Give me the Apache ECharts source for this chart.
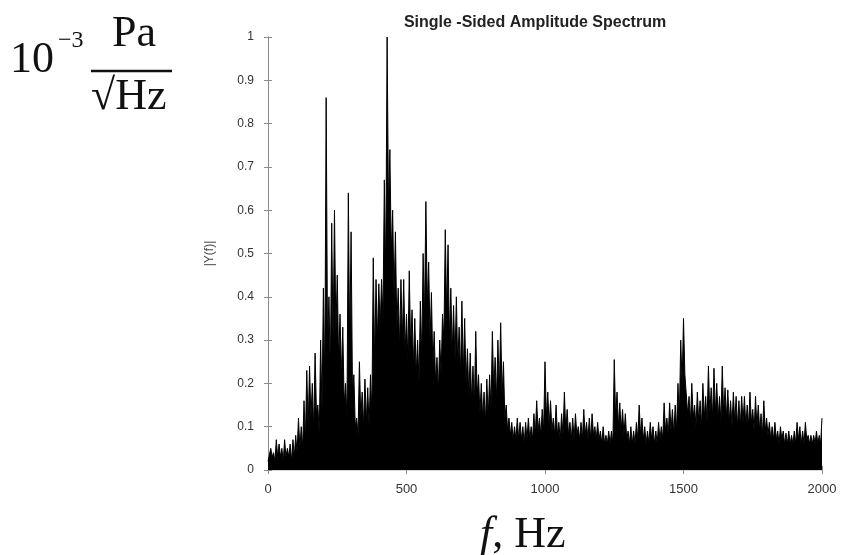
<!DOCTYPE html>
<html><head><meta charset="utf-8">
<script src="https://cdn.jsdelivr.net/npm/echarts@6/dist/echarts.min.js"></script>
<style>html,body{margin:0;padding:0;background:#fff}#c{width:842px;height:555px}</style>
</head><body><div id="c"></div><script>
// Frequency grid: one spike sample every 10 Hz (0..2000), one "dense body" sample between each pair
const freqStep = 10;
const xTicks = [0, 500, 1000, 1500, 2000];
const yTicks = [0, 0.1, 0.2, 0.3, 0.4, 0.5, 0.6, 0.7, 0.8, 0.9, 1];
// Spike tops of the amplitude spectrum (10^-3 Pa/sqrt(Hz)), read at 0,10,...,2000 Hz
const peaks = [
 0.02,0.05,0.04,0.07,0.06,0.05,0.07,0.05,0.06,0.07,
 0.08,0.12,0.10,0.16,0.23,0.24,0.20,0.27,0.15,0.30,
 0.42,0.86,0.40,0.57,0.60,0.45,0.36,0.33,0.20,0.64,
 0.55,0.22,0.12,0.25,0.18,0.21,0.19,0.22,0.49,0.44,
 0.43,0.44,0.67,1.00,0.74,0.60,0.55,0.42,0.44,0.44,
 0.36,0.46,0.37,0.35,0.30,0.39,0.50,0.62,0.48,0.41,
 0.32,0.26,0.30,0.36,0.555,0.52,0.42,0.38,0.40,0.33,
 0.39,0.35,0.28,0.27,0.24,0.32,0.22,0.20,0.18,0.21,
 0.22,0.32,0.26,0.30,0.34,0.25,0.15,0.12,0.11,0.10,
 0.12,0.11,0.10,0.11,0.12,0.10,0.13,0.16,0.12,0.14,
 0.25,0.18,0.16,0.12,0.15,0.11,0.13,0.18,0.14,0.11,
 0.12,0.13,0.10,0.11,0.14,0.11,0.12,0.13,0.10,0.11,
 0.09,0.10,0.08,0.09,0.09,0.255,0.18,0.155,0.14,0.13,
 0.09,0.10,0.09,0.11,0.15,0.12,0.10,0.09,0.11,0.10,
 0.09,0.11,0.10,0.155,0.12,0.155,0.14,0.15,0.20,0.30,
 0.35,0.22,0.17,0.20,0.15,0.18,0.16,0.20,0.17,0.24,
 0.19,0.235,0.20,0.17,0.24,0.19,0.185,0.16,0.18,0.17,
 0.16,0.17,0.17,0.15,0.18,0.14,0.17,0.15,0.13,0.16,
 0.12,0.11,0.10,0.11,0.09,0.10,0.09,0.085,0.09,0.08,
 0.09,0.11,0.10,0.09,0.11,0.08,0.08,0.08,0.09,0.08,
 0.12
];
// Top of the solid black body between spikes, read at 5,15,...,1995 Hz
const troughs = [
 0.02,0.03,0.02,0.03,0.03,0.02,0.03,0.03,0.02,0.03,
 0.04,0.05,0.05,0.07,0.10,0.12,0.09,0.13,0.08,0.14,
 0.20,0.28,0.22,0.30,0.32,0.25,0.22,0.15,0.12,0.28,
 0.18,0.10,0.08,0.12,0.10,0.11,0.10,0.13,0.25,0.30,
 0.33,0.35,0.45,0.60,0.50,0.40,0.33,0.28,0.30,0.27,
 0.25,0.28,0.24,0.22,0.20,0.26,0.35,0.38,0.30,0.24,
 0.20,0.18,0.22,0.30,0.36,0.30,0.27,0.25,0.24,0.22,
 0.22,0.20,0.17,0.16,0.15,0.17,0.13,0.12,0.11,0.12,
 0.14,0.18,0.16,0.18,0.17,0.12,0.09,0.08,0.07,0.07,
 0.07,0.07,0.06,0.07,0.07,0.07,0.08,0.09,0.08,0.09,
 0.12,0.10,0.09,0.08,0.08,0.07,0.08,0.09,0.08,0.07,
 0.07,0.08,0.07,0.07,0.08,0.07,0.07,0.08,0.07,0.07,
 0.06,0.06,0.06,0.06,0.06,0.12,0.10,0.09,0.08,0.07,
 0.06,0.06,0.06,0.07,0.08,0.07,0.06,0.06,0.07,0.06,
 0.06,0.07,0.07,0.09,0.08,0.09,0.08,0.09,0.12,0.20,
 0.22,0.13,0.11,0.12,0.10,0.11,0.10,0.12,0.11,0.13,
 0.12,0.13,0.12,0.11,0.13,0.12,0.11,0.10,0.11,0.10,
 0.10,0.11,0.10,0.10,0.11,0.09,0.10,0.09,0.08,0.09,
 0.08,0.07,0.07,0.07,0.06,0.07,0.06,0.06,0.06,0.06,
 0.06,0.07,0.06,0.06,0.07,0.06,0.06,0.06,0.06,0.06
];
const titleText = 'Single -Sided Amplitude Spectrum';
const yName = '|Y(f)|';

const seriesData = [];
for (let i = 0; i < peaks.length; i++) {
  seriesData.push([i * freqStep, peaks[i]]);
  if (i < troughs.length) seriesData.push([i * freqStep + freqStep / 2, troughs[i]]);
}

const axisGray = '#8a8a8a';
const chart = echarts.init(document.getElementById('c'), null, {renderer: 'canvas'});
const serif = '"Liberation Serif","Times New Roman",serif';
chart.setOption({
  animation: false,
  backgroundColor: '#fff',
  title: {
    text: titleText, left: 530, top: 10, textAlign: 'center',
    textStyle: {fontFamily: 'Liberation Sans, Arial', fontSize: 16, fontWeight: 'bold', color: '#222'}
  },
  grid: {left: 268, right: 20, top: 37, bottom: 85},
  xAxis: [{
    type: 'value', min: 0, max: 2000, interval: 500, position: 'bottom',
    axisLine: {lineStyle: {color: axisGray, width: 1}},
    axisTick: {inside: true, length: 4, lineStyle: {color: axisGray}},
    axisLabel: {fontFamily: 'Liberation Sans, Arial', fontSize: 13, color: '#333', margin: 13,
      formatter: v => xTicks.indexOf(v) >= 0 ? String(v) : ''},
    splitLine: {show: false}
  }, {
    type: 'value', min: 0, max: 2000, interval: 500, position: 'top',
    axisLine: {show: true, lineStyle: {color: '#d8d8d8', width: 1}},
    axisTick: {inside: true, length: 4, lineStyle: {color: axisGray}},
    axisLabel: {show: false}, splitLine: {show: false}
  }],
  yAxis: [{
    type: 'value', min: 0, max: 1, interval: 0.1, position: 'left',
    name: yName, nameLocation: 'middle', nameGap: 52, nameRotate: 90,
    nameTextStyle: {fontFamily: 'Liberation Sans, Arial', fontSize: 12, color: '#444'},
    axisLine: {show: true, lineStyle: {color: axisGray, width: 1}},
    axisTick: {show: true, inside: true, length: 4, lineStyle: {color: axisGray}},
    axisLabel: {fontFamily: 'Liberation Sans, Arial', fontSize: 12, color: '#333', margin: 14,
      formatter: v => {
        const t = yTicks.find(k => Math.abs(k - v) < 1e-6);
        if (t === undefined) return '';
        return (t === 0 || t === 1) ? String(t) : t.toFixed(1);
      }},
    splitLine: {show: false}
  }, {
    type: 'value', min: 0, max: 1, interval: 0.1, position: 'right',
    axisLine: {show: true, lineStyle: {color: axisGray, width: 1}},
    axisTick: {show: true, inside: true, length: 4, lineStyle: {color: axisGray}},
    axisLabel: {show: false}, splitLine: {show: false}
  }],
  graphic: [
    {type: 'text', left: 10, top: 38, style: {text: '10', font: '44px ' + serif, fill: '#111'}},
    {type: 'text', left: 58, top: 29, style: {text: '\u22123', font: '24px ' + serif, fill: '#111'}},
    {type: 'text', left: 112, top: 12, style: {text: 'Pa', font: '44px ' + serif, fill: '#111'}},
    {type: 'line', shape: {x1: 91, y1: 71, x2: 172, y2: 71}, style: {stroke: '#111', lineWidth: 2.5}},
    {type: 'text', left: 91, top: 75, style: {text: '\u221AHz', font: '44px ' + serif, fill: '#111'}},
    {type: 'text', left: 480, top: 513, style: {
      rich: {
        f: {font: 'italic 44px ' + serif, fill: '#111'},
        h: {font: '44px ' + serif, fill: '#111'}
      },
      text: '{f|f}{h|, Hz}'}}
  ],
  series: [{
    type: 'line', xAxisIndex: 0, yAxisIndex: 0, data: seriesData,
    showSymbol: false, symbol: 'none', sampling: null,
    lineStyle: {color: '#000', width: 1}, areaStyle: {color: '#000', opacity: 1, origin: 'start'},
    silent: true
  }]
});
</script></body></html>
